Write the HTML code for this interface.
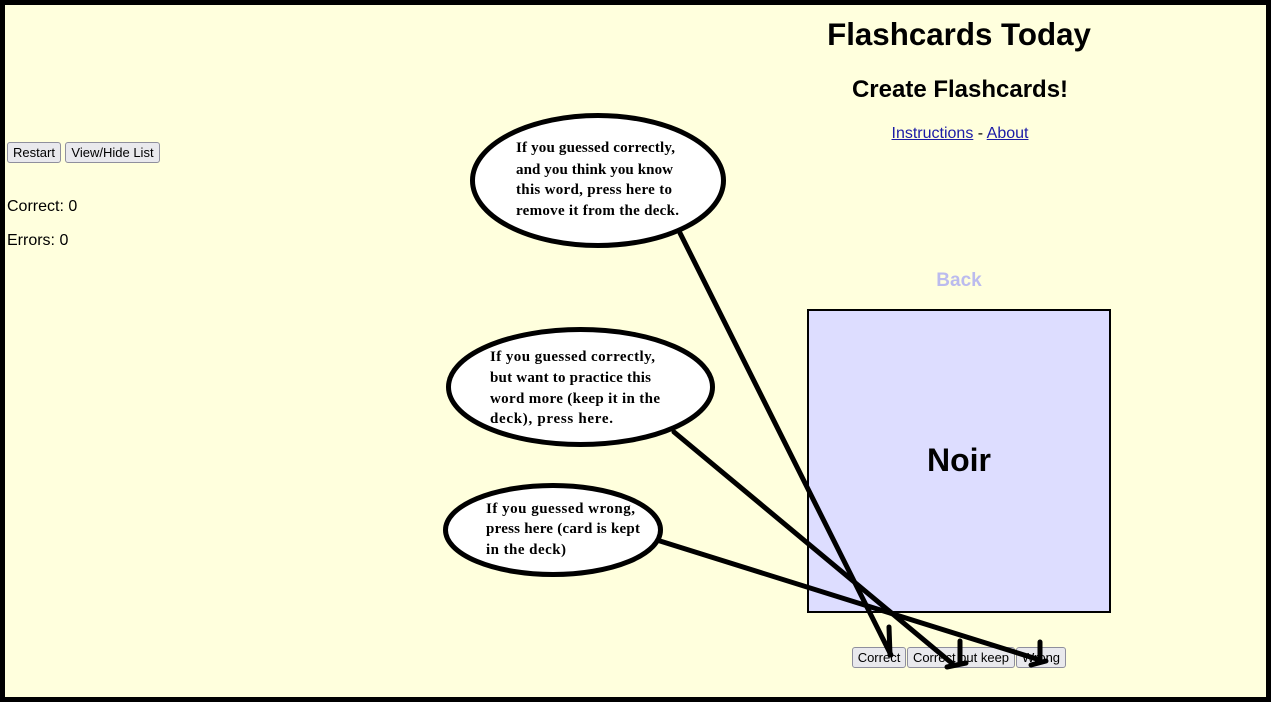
<!DOCTYPE html>
<html><head><meta charset="utf-8"><style>
html,body{margin:0;padding:0;}
body{width:1271px;height:702px;position:relative;overflow:hidden;background:#000;font-family:"Liberation Sans",Arial,sans-serif;}
#page{position:absolute;left:5px;top:5px;width:1261px;height:692px;background:#ffffdd;}
.abs{position:absolute;white-space:nowrap;}
.btn{position:absolute;box-sizing:border-box;background:#e9e9ed;border:1px solid #8f8f9d;border-radius:3px;font-size:13px;line-height:19px;text-align:center;color:#000;font-family:"Liberation Sans",Arial,sans-serif;}
a{color:#1a1aa6;text-decoration:underline;}
</style></head><body>
<div id="page"></div>
<div class="abs" style="left:759px;width:400px;text-align:center;top:17px;font-weight:bold;font-size:31.3px;line-height:36px;">Flashcards Today</div>
<div class="abs" style="left:760px;width:400px;text-align:center;top:76px;font-weight:bold;font-size:24px;line-height:28px;">Create Flashcards!</div>
<div class="abs" style="left:760px;width:400px;text-align:center;top:125px;font-size:16px;line-height:18px;"><a>Instructions</a> - <a>About</a></div>
<div class="abs" style="left:759px;width:400px;text-align:center;top:270px;font-weight:bold;font-size:19px;line-height:21px;color:#bbbbee;">Back</div>
<div class="abs" style="left:807px;top:309px;width:304px;height:304px;box-sizing:border-box;border:2.5px solid #000;background:#ddddff;"></div>
<div class="abs" style="left:759px;width:400px;text-align:center;top:442px;font-weight:bold;font-size:32px;line-height:36px;">Noir</div>

<div class="btn" style="left:7px;top:142px;width:54px;height:21px;">Restart</div>
<div class="btn" style="left:65px;top:142px;width:95px;height:21px;">View/Hide List</div>
<div class="abs" style="left:7px;top:198px;font-size:16px;line-height:18px;">Correct: 0</div>
<div class="abs" style="left:7px;top:232px;font-size:16px;line-height:18px;">Errors: 0</div>

<div class="btn" style="left:852px;top:647px;width:54px;height:21px;">Correct</div>
<div class="btn" style="left:907px;top:647px;width:108px;height:21px;">Correct but keep</div>
<div class="btn" style="left:1016px;top:647px;width:50px;height:21px;">Wrong</div>

<svg width="1271" height="702" style="position:absolute;left:0;top:0;" xmlns="http://www.w3.org/2000/svg">
<g fill="#fff" stroke="#000" stroke-width="5">
<ellipse cx="598" cy="180.5" rx="125.5" ry="65"/>
<ellipse cx="580.5" cy="387" rx="132" ry="57.5"/>
<ellipse cx="553" cy="530" rx="107.5" ry="44.5"/>
</g>
<g fill="#000" font-family="'Liberation Serif','Times New Roman',serif" font-weight="bold" font-size="15">
<text x="516" y="152" textLength="159" lengthAdjust="spacing">If you guessed correctly,</text>
<text x="516" y="174" textLength="157" lengthAdjust="spacing">and you think you know</text>
<text x="516" y="194" textLength="156" lengthAdjust="spacing">this word, press here to</text>
<text x="516" y="215" textLength="163" lengthAdjust="spacing">remove it from the deck.</text>
<text x="490" y="361" textLength="165" lengthAdjust="spacing">If you guessed correctly,</text>
<text x="490" y="382" textLength="161" lengthAdjust="spacing">but want to practice this</text>
<text x="490" y="403" textLength="170" lengthAdjust="spacing">word more (keep it in the</text>
<text x="490" y="423" textLength="123" lengthAdjust="spacing">deck), press here.</text>
<text x="486" y="513" textLength="149" lengthAdjust="spacing">If you guessed wrong,</text>
<text x="486" y="533" textLength="154" lengthAdjust="spacing">press here (card is kept</text>
<text x="486" y="554" textLength="80" lengthAdjust="spacing">in the deck)</text>
</g>
<g stroke="#000" stroke-width="5" stroke-linecap="round" fill="none">
<line x1="680" y1="233" x2="891" y2="655"/>
<line x1="889" y1="627" x2="890" y2="655"/>
<line x1="674" y1="432" x2="954" y2="665"/>
<line x1="960" y1="641" x2="960" y2="664"/>
<line x1="947" y1="667" x2="966" y2="663"/>
<line x1="660" y1="541" x2="1040" y2="660"/>
<line x1="1040" y1="642" x2="1040" y2="662"/>
<line x1="1031" y1="665" x2="1046" y2="661"/>
</g>
</svg>
</body></html>
